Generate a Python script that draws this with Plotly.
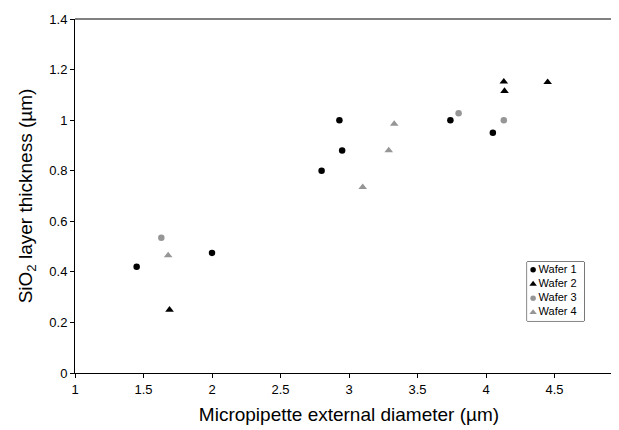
import plotly.graph_objects as go

# Wafer 1 (black circles)
w1_x = [1.45, 2.00, 2.80, 2.93, 2.95, 3.74, 4.05]
w1_y = [0.42, 0.475, 0.80, 1.00, 0.88, 1.00, 0.95]
# Wafer 2 (black triangles)
w2_x = [1.69, 4.13, 4.135, 4.45]
w2_y = [0.25, 1.152, 1.115, 1.15]
# Wafer 3 (grey circles)
w3_x = [1.63, 3.80, 4.13]
w3_y = [0.535, 1.027, 1.00]
# Wafer 4 (grey triangles)
w4_x = [1.68, 3.10, 3.29, 3.33]
w4_y = [0.465, 0.735, 0.88, 0.985]

series_names = ["Wafer 1", "Wafer 2", "Wafer 3", "Wafer 4"]

BLACK = "#000000"
GREY = "#969696"
FONT = "Liberation Sans, Arial, sans-serif"

fig = go.Figure()
specs = [
    (w1_x, w1_y, "circle", BLACK, 6.5),
    (w2_x, w2_y, "triangle-up", BLACK, 7.5),
    (w3_x, w3_y, "circle", GREY, 6.5),
    (w4_x, w4_y, "triangle-up", GREY, 7.5),
]
for name, (xs, ys, sym, col, sz) in zip(series_names, specs):
    fig.add_trace(go.Scatter(
        x=xs, y=ys, mode="markers", name=name, showlegend=False,
        marker=dict(symbol=sym, color=col, size=sz, line=dict(width=0)),
        xaxis="x", yaxis="y",
    ))

# legend key, drawn on a small inset axis (one row per series)
for row, (name, (xs, ys, sym, col, sz)) in enumerate(zip(series_names, specs)):
    fig.add_trace(go.Scatter(
        x=[6], y=[row], mode="markers", name=name, showlegend=False, hoverinfo="skip",
        marker=dict(symbol=sym, color=col, size=sz - 1, line=dict(width=0)),
        xaxis="x2", yaxis="y2",
    ))
    fig.add_trace(go.Scatter(
        x=[11.5], y=[row], mode="text", text=[name], textposition="middle right",
        showlegend=False, hoverinfo="skip",
        textfont=dict(family=FONT, size=11, color="black"),
        xaxis="x2", yaxis="y2",
    ))

axis_common = dict(
    showgrid=False, zeroline=False, showline=True, linecolor="black", linewidth=1,
    ticks="outside", ticklen=4, tickcolor="black", tickwidth=1,
    tickfont=dict(family=FONT, size=13, color="black"),
    automargin=False,
)

fig.update_layout(
    width=619, height=430,
    margin=dict(l=66.5, r=4, t=11, b=65),
    paper_bgcolor="white", plot_bgcolor="white",
    font=dict(family=FONT, color="black"),
    xaxis=dict(range=[1, 5], dtick=0.5, tick0=1,
               title=dict(text="Micropipette external diameter (µm)",
                          font=dict(family=FONT, size=19, color="black"), standoff=12),
               **axis_common),
    yaxis=dict(range=[0, 1.4], dtick=0.2, tick0=0,
               title=dict(text="SiO<sub>2</sub> layer thickness (µm)",
                          font=dict(family=FONT, size=19, color="black"), standoff=11),
               **axis_common),
    xaxis2=dict(domain=[0.825, 0.929], range=[0, 57], visible=False, fixedrange=True),
    yaxis2=dict(domain=[0.147, 0.3136], range=[3.6, -0.55], visible=False, fixedrange=True,
                anchor="x2"),
    showlegend=False,
)
fig.update_layout(xaxis2_anchor="y2")

# legend frame
fig.add_shape(type="rect", xref="x2 domain", yref="y2 domain", x0=0, x1=1, y0=0, y1=1,
              line=dict(color="black", width=1), fillcolor="rgba(0,0,0,0)", layer="below")

# grey top and right frame of the plot area
fig.add_shape(type="line", xref="x domain", yref="y domain", x0=0, x1=1, y0=1, y1=1,
              line=dict(color="#808080", width=2))
fig.add_shape(type="line", xref="x domain", yref="y domain", x0=1, x1=1, y0=0, y1=1,
              line=dict(color="#808080", width=2))

fig.write_html("out.html")
